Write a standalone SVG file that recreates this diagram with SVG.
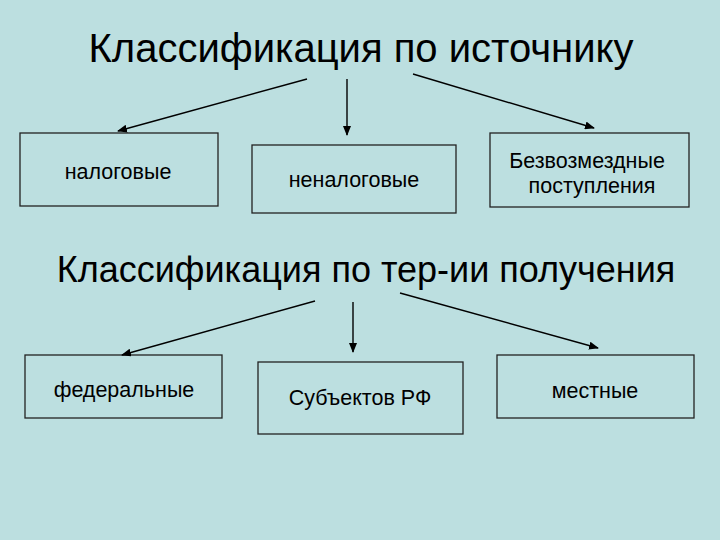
<svg xmlns="http://www.w3.org/2000/svg" width="720" height="540" viewBox="0 0 720 540">
<defs>
<marker id="ah" markerWidth="10" markerHeight="8" refX="9" refY="4" orient="auto" markerUnits="userSpaceOnUse">
<path d="M0,0 L10,4 L0,8 Z" fill="#000"/>
</marker>
<style>
.box{fill:#bcdfe0;stroke:#222;stroke-width:1.3}
.t{font-family:"Liberation Sans",Arial,sans-serif;fill:#000;text-anchor:middle}
.n{font-size:21.5px}
.h{font-size:40px}
.c line{stroke:#000;stroke-width:1.4;marker-end:url(#ah)}
</style>
</defs>
<rect width="720" height="540" fill="#bcdfe0"/>
<text class="t h" x="361" y="62">Классификация по источнику</text>
<text class="t h" x="366" y="282" style="font-size:36px">Классификация по тер-ии получения</text>
<g id="n1"><rect class="box" x="20" y="133" width="198" height="73"/><text class="t n" x="118" y="179">налоговые</text></g>
<g id="n2"><rect class="box" x="252" y="145" width="204" height="68"/><text class="t n" x="354" y="187">неналоговые</text></g>
<g id="n3"><rect class="box" x="490" y="133" width="199" height="74"/><text class="t n" x="587" y="168">Безвозмездные</text><text class="t n" x="592" y="193">поступления</text></g>
<g id="n4"><rect class="box" x="25" y="355" width="197" height="63"/><text class="t n" x="124" y="397">федеральные</text></g>
<g id="n5"><rect class="box" x="258" y="362" width="205" height="72"/><text class="t n" x="360" y="405">Субъектов РФ</text></g>
<g id="n6"><rect class="box" x="497" y="355" width="197" height="63"/><text class="t n" x="595" y="398">местные</text></g>
<g class="c">
<line x1="307" y1="79" x2="118" y2="131"/>
<line x1="347" y1="79" x2="347" y2="135"/>
<line x1="413" y1="74" x2="594" y2="128"/>
<line x1="315" y1="301" x2="122" y2="355"/>
<line x1="353" y1="302" x2="353" y2="352"/>
<line x1="400" y1="293" x2="598" y2="348"/>
</g>
</svg>
